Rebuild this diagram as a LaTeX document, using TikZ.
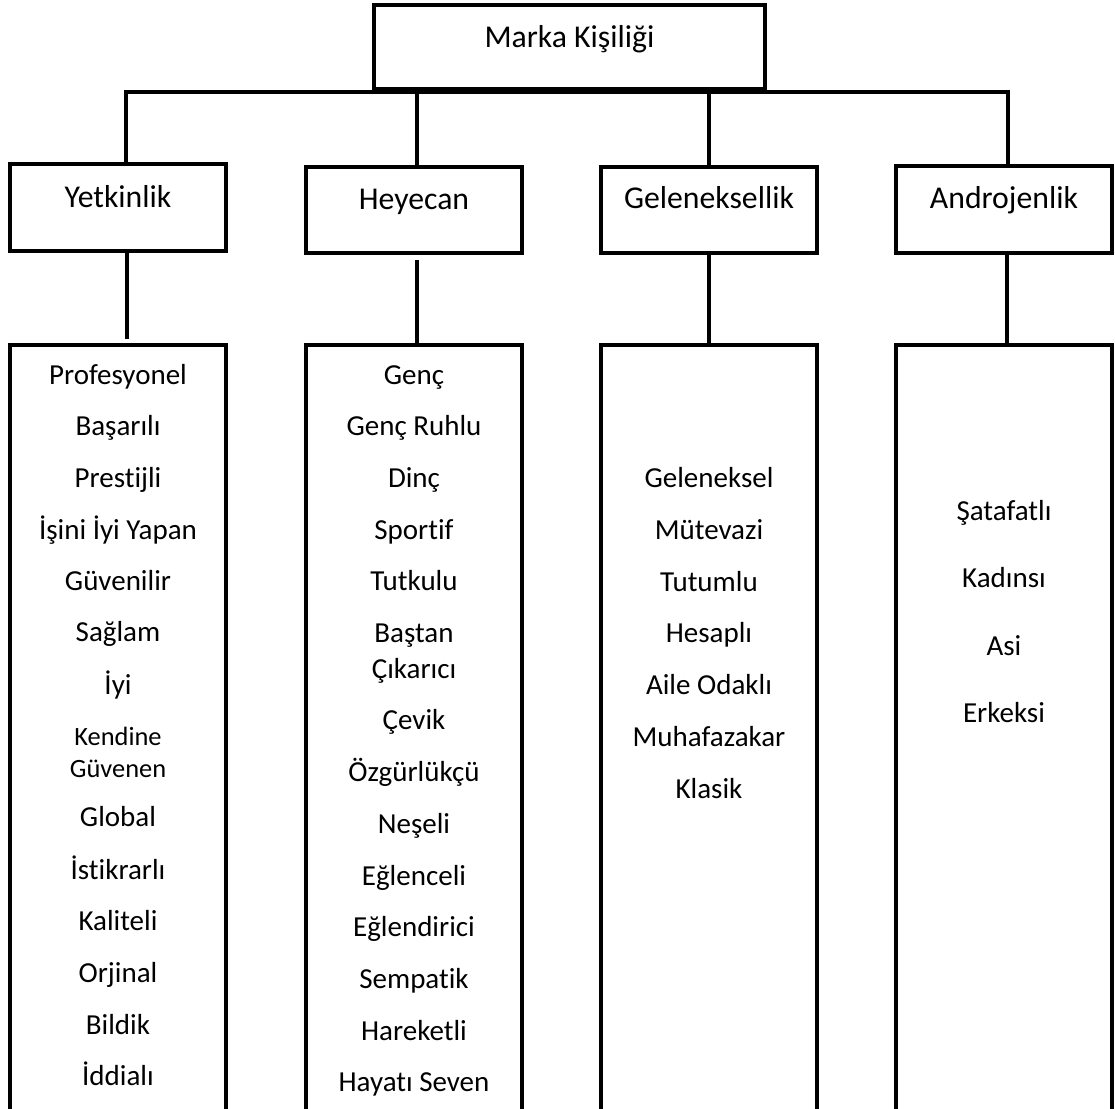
\documentclass[tikz,border=0pt]{standalone}
\usepackage{fontspec}
\setmainfont{Carlito}[Ligatures=NoCommon]
\begin{document}
\begin{tikzpicture}[x=0.75pt,y=-0.75pt,
  box/.style={draw=black, line width=3pt, rectangle, inner sep=0pt, minimum width=162pt},
  conn/.style={draw=black, line width=3pt},
  head/.style={font=\fontsize{23.8}{28}\selectfont, anchor=base, inner sep=0pt},
  item/.style={font=\fontsize{21.75}{26}\selectfont, anchor=base, inner sep=0pt},
  itemsmall/.style={font=\fontsize{19.8}{24}\selectfont, anchor=base, inner sep=0pt}]
\useasboundingbox (0,0) rectangle (1115,1108);
\fill[white] (0,0) rectangle (1115,1108);
\clip (0,0) rectangle (1115,1108);

% top
\node[box, minimum width=293.25pt, minimum height=63pt] (top) at (569.5,47) {};
\node[head] (title) at (569.5,47) {Marka Kişiliği};

% level 2
\node[box, minimum height=65.25pt] (yet) at (118,207.5) {};
\node[box, minimum height=64.5pt] (hey) at (414,210) {};
\node[box, minimum height=64.5pt] (gel) at (709,210) {};
\node[box, minimum height=65.25pt] (and) at (1004,209.5) {};
\node[head] (yetT) at (118,207) {Yetkinlik};
\node[head] (heyT) at (414,209) {Heyecan};
\node[head] (gelT) at (709,208) {Geleneksellik};
\node[head] (andT) at (1004,208) {Androjenlik};

% level 3 (open at the bottom, clipped)
\node[box, minimum height=596.25pt] (yetL) at (118,742.5) {};
\node[box, minimum height=596.25pt] (heyL) at (414,742.5) {};
\node[box, minimum height=596.25pt] (gelL) at (709,742.5) {};
\node[box, minimum height=596.25pt] (andL) at (1004,742.5) {};

% bus and connectors
\coordinate (bY) at (126,92);
\coordinate (bH) at (417,92);
\coordinate (bG) at (709,92);
\coordinate (bA) at (1008,92);
\draw[conn] (yet.north -| bY) -- (bY) -- (bA) -- (and.north -| bA);
\draw[conn] (bH) -- (hey.north -| bH);
\draw[conn] (bG) -- (gel.north -| bG);

\coordinate (dY) at (127,339);
\coordinate (dH) at (417,260);
\coordinate (dG) at (709,253);
\coordinate (dA) at (1007,253);
\draw[conn] (yet.south -| dY) -- (dY);
\draw[conn] (dH) -- (heyL.north -| dH);
\draw[conn] (gel.south -| dG) -- (gelL.north -| dG);
\draw[conn] (and.south -| dA) -- (andL.north -| dA);

% Yetkinlik list
\foreach \t/\y [count=\i] in {Profesyonel/384, Başarılı/435, Prestijli/487, İşini İyi Yapan/539, Güvenilir/590, Sağlam/641, İyi/694, Global/826, İstikrarlı/879, Kaliteli/930, Orjinal/982, Bildik/1034, İddialı/1085}
  \node[item] (y\i) at (118,\y) {\t};
\node[itemsmall] (ys1) at (118,745) {Kendine};
\node[itemsmall] (ys2) at (118,777) {Güvenen};

% Heyecan list
\foreach \t/\y [count=\i] in {Genç/384, Genç Ruhlu/435, Dinç/487, Sportif/539, Tutkulu/590, Baştan/642, Çıkarıcı/678, Çevik/729, Özgürlükçü/781, Neşeli/833, Eğlenceli/885, Eğlendirici/936, Sempatik/988, Hareketli/1040, Hayatı Seven/1091}
  \node[item] (h\i) at (414,\y) {\t};

% Geleneksellik list
\foreach \t/\y [count=\i] in {Geleneksel/487, Mütevazi/539, Tutumlu/591, Hesaplı/642, Aile Odaklı/694, Muhafazakar/746, Klasik/798}
  \node[item] (g\i) at (709,\y) {\t};

% Androjenlik list
\foreach \t/\y [count=\i] in {Şatafatlı/520, Kadınsı/587, Asi/655, Erkeksi/722}
  \node[item] (a\i) at (1004,\y) {\t};
\end{tikzpicture}
\end{document}
